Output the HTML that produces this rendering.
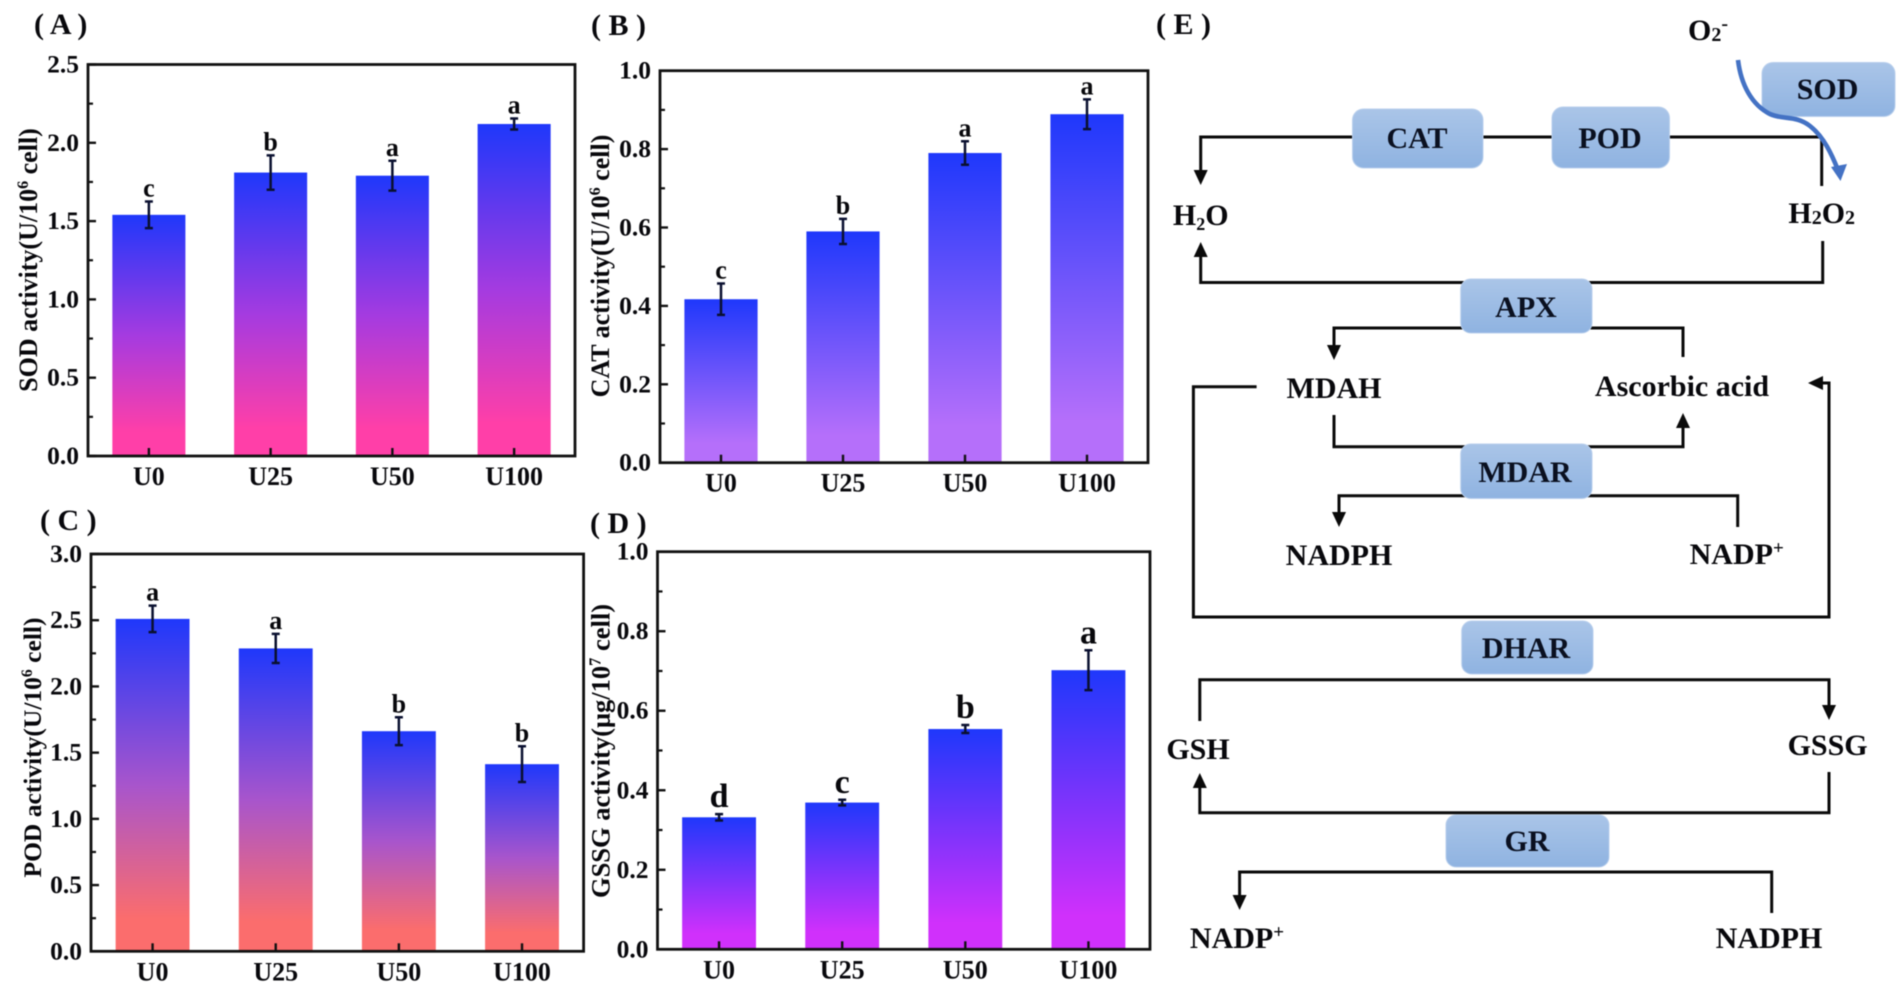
<!DOCTYPE html>
<html lang="en">
<head>
<meta charset="utf-8">
<title>Antioxidant enzyme activity and pathway</title>
<style>
html,body{margin:0;padding:0;background:#fff;width:1902px;height:993px;overflow:hidden}
#figure{display:block;filter:blur(0.6px)}
text{font-family:"Liberation Serif",serif;font-weight:bold;fill:#08080c}
.box{fill:url(#boxGrad);stroke:#b9cfec;stroke-width:1}
.conn{fill:none;stroke:#0a0a0a;stroke-width:3}
.conna{fill:none;stroke:#0a0a0a;stroke-width:3;marker-end:url(#arrow)}
.d{font-size:30px;text-anchor:middle}
.b{font-size:30px;text-anchor:middle;fill:#0a1020}
.pl{font-size:30px}
</style>
</head>
<body>
<svg id="figure" xmlns="http://www.w3.org/2000/svg" width="1902" height="993" viewBox="0 0 1902 993">
  <defs>
    <marker id="arrow" markerUnits="userSpaceOnUse" markerWidth="16" markerHeight="16" refX="5" refY="7.5" orient="auto">
      <path d="M0,0.5 L15,7.5 L0,14.5 z" fill="#0a0a0a"/>
    </marker>
    <linearGradient id="boxGrad" x1="0" y1="0" x2="0" y2="1">
      <stop offset="0" stop-color="#aac5e8"/>
      <stop offset="1" stop-color="#8fb3e1"/>
    </linearGradient>
    <linearGradient id="gradA" x1="0" y1="0" x2="0" y2="1"><stop offset="0" stop-color="#1f38fb"/><stop offset="0.5" stop-color="#a53be0"/><stop offset="0.9" stop-color="#ff3fa8"/></linearGradient>
    <linearGradient id="gradB" x1="0" y1="0" x2="0" y2="1"><stop offset="0" stop-color="#1f38fb"/><stop offset="0.88" stop-color="#b56ffa"/></linearGradient>
    <linearGradient id="gradC" x1="0" y1="0" x2="0" y2="1"><stop offset="0" stop-color="#1f38fb"/><stop offset="0.5" stop-color="#a855cc"/><stop offset="0.9" stop-color="#fb6d6d"/></linearGradient>
    <linearGradient id="gradD" x1="0" y1="0" x2="0" y2="1"><stop offset="0" stop-color="#1f38fb"/><stop offset="0.88" stop-color="#d030fb"/></linearGradient>
  </defs>

  <text class="pl" x="34" y="34">( A )</text>
  <text class="pl" x="591" y="35">( B )</text>
  <text class="pl" x="40" y="530">( C )</text>
  <text class="pl" x="590" y="533">( D )</text>
  <text class="pl" x="1156" y="34">( E )</text>

  <g id="charts"></g>

  <g id="pathway">
    <polyline class="conna" points="1822,137 1200.7,137 1200.7,175"/>
    <line class="conn" x1="1821.7" y1="137" x2="1821.7" y2="186"/>
    <polyline class="conna" points="1822.7,241 1822.7,282.5 1200.7,282.5 1200.7,252"/>
    <polyline class="conna" points="1683,357 1683,328 1334,328 1334,350"/>
    <polyline class="conna" points="1334,415 1334,446.7 1683,446.7 1683,423"/>
    <polyline class="conna" points="1737.7,527 1737.7,495.7 1339,495.7 1339,517"/>
    <polyline class="conna" points="1256.6,386.7 1193.4,386.7 1193.4,617 1829,617 1829,383 1818,383"/>
    <polyline class="conna" points="1199.8,721 1199.8,679.7 1829,679.7 1829,710"/>
    <polyline class="conna" points="1829,772 1829,812.7 1199.8,812.7 1199.8,783"/>
    <polyline class="conna" points="1771.7,913 1771.7,872 1239.6,872 1239.6,900"/>

    <rect class="box" x="1352.5" y="109" width="130.5" height="59" rx="11"/>
    <rect class="box" x="1552" y="107" width="117.5" height="61" rx="11"/>
    <rect class="box" x="1762" y="62.5" width="133" height="54" rx="11"/>
    <rect class="box" x="1460.7" y="279" width="131.3" height="54" rx="10"/>
    <rect class="box" x="1460.7" y="444" width="131.3" height="54.5" rx="10"/>
    <rect class="box" x="1461.7" y="621" width="131.3" height="53" rx="10"/>
    <rect class="box" x="1446" y="815" width="163" height="52" rx="10"/>

    <text class="b" x="1417" y="148">CAT</text>
    <text class="b" x="1610" y="148">POD</text>
    <text class="b" x="1827.6" y="99">SOD</text>
    <text class="b" x="1526" y="317">APX</text>
    <text class="b" x="1525" y="482">MDAR</text>
    <text class="b" x="1526" y="658">DHAR</text>
    <text class="b" x="1527" y="851">GR</text>

    <path d="M1738,60 C1741,85 1752,105 1770,114 C1783,120 1796,115 1810,126 C1824,137 1832,155 1838,170" fill="none" stroke="#4472c4" stroke-width="4.6"/>
    <polygon points="1840.5,181 1831,167 1847,164" fill="#4472c4"/>

    <text class="d" x="1708" y="40">O<tspan font-size="20" dy="1">2</tspan><tspan font-size="20" dy="-11">-</tspan></text>
    <text class="d" x="1200.7" y="225">H<tspan font-size="18" dy="5">2</tspan><tspan dy="-5">O</tspan></text>
    <text class="d" x="1821.7" y="223">H<tspan font-size="20" dy="1">2</tspan><tspan dy="-1">O</tspan><tspan font-size="20" dy="1">2</tspan></text>
    <text class="d" x="1334" y="398">MDAH</text>
    <text class="d" x="1682" y="396">Ascorbic acid</text>
    <text class="d" x="1339" y="565">NADPH</text>
    <text class="d" x="1736.7" y="564">NADP<tspan font-size="19" dy="-10">+</tspan></text>
    <text class="d" x="1198" y="759">GSH</text>
    <text class="d" x="1827.6" y="755">GSSG</text>
    <text class="d" x="1237" y="948">NADP<tspan font-size="19" dy="-10">+</tspan></text>
    <text class="d" x="1769" y="948">NADPH</text>
  </g>
</svg>
<script>
const categories = ['U0', 'U25', 'U50', 'U100'];

const sodValues = [1.54, 1.81, 1.79, 2.12];
const sodErrors = [0.085, 0.11, 0.095, 0.035];
const sodLetters = ['c', 'b', 'a', 'a'];
const sodTicks = ['0.0', '0.5', '1.0', '1.5', '2.0', '2.5'];

const catValues = [0.417, 0.59, 0.79, 0.889];
const catErrors = [0.04, 0.032, 0.03, 0.038];
const catLetters = ['c', 'b', 'a', 'a'];
const catTicks = ['0.0', '0.2', '0.4', '0.6', '0.8', '1.0'];

const podValues = [2.51, 2.287, 1.662, 1.413];
const podErrors = [0.1, 0.11, 0.105, 0.135];
const podLetters = ['a', 'a', 'b', 'b'];
const podTicks = ['0.0', '0.5', '1.0', '1.5', '2.0', '2.5', '3.0'];

const gssgValues = [0.332, 0.369, 0.554, 0.702];
const gssgErrors = [0.008, 0.007, 0.01, 0.05];
const gssgLetters = ['d', 'c', 'b', 'a'];
const gssgTicks = ['0.0', '0.2', '0.4', '0.6', '0.8', '1.0'];

const NS = 'http://www.w3.org/2000/svg';
const chartsRoot = document.getElementById('charts');

function make(parent, tag, attrs, txt) {
  const el = document.createElementNS(NS, tag);
  for (const k in attrs) el.setAttribute(k, attrs[k]);
  if (txt !== undefined) el.textContent = txt;
  parent.appendChild(el);
  return el;
}

function drawPanel(p) {
  const tickNums = p.ticks.map(Number);
  const yMax = tickNums[tickNums.length - 1];
  const yScale = v => p.bottom - (v / yMax) * (p.bottom - p.top);
  const step = (p.right - p.left) / categories.length;
  const xScale = i => p.left + step * (i + 0.5);
  const barW = step * 0.6;

  const g = make(chartsRoot, 'g', {});
  
  

  p.values.forEach((v, i) => {
    const bar = make(g, 'rect', {
      x: xScale(i) - barW / 2, y: yScale(v), width: barW, height: p.bottom - yScale(v),
      fill: 'url(#' + p.grad + ')'
    });
    
    

    const hi = yScale(v + p.errors[i]);
    const lo = yScale(v - p.errors[i]);
    const cx = xScale(i);
    const err = make(g, 'path', {
      d: 'M' + (cx - 4) + ',' + hi + 'H' + (cx + 4) + 'M' + cx + ',' + hi + 'V' + lo + 'M' + (cx - 4) + ',' + lo + 'H' + (cx + 4),
      fill: 'none', stroke: '#0a1030', 'stroke-width': 2.5
    });
    
    

    const letter = make(g, 'text', {
      x: cx, y: hi - p.letterGap, 'text-anchor': 'middle', 'font-size': p.letterSize
    }, p.letters[i]);
    
    

    const tick = make(g, 'line', {
      x1: cx, x2: cx, y1: p.bottom, y2: p.bottom - 8, stroke: '#111', 'stroke-width': 2.4
    });
    
    

    const lab = make(g, 'text', {
      x: cx, y: p.bottom + 29, 'text-anchor': 'middle', 'font-size': 26
    }, categories[i]);
    
    
  });

  tickNums.forEach((t, i) => {
    const y = yScale(t);
    const major = make(g, 'line', {
      x1: p.left, x2: p.left + 8, y1: y, y2: y, stroke: '#111', 'stroke-width': 2.4
    });
    
    

    const lab = make(g, 'text', {
      x: p.left - 9, y: y + 8, 'text-anchor': 'end', 'font-size': 25.5
    }, p.ticks[i]);
    
    

    if (i < tickNums.length - 1) {
      const my = yScale((t + tickNums[i + 1]) / 2);
      const minor = make(g, 'line', {
        x1: p.left, x2: p.left + 5, y1: my, y2: my, stroke: '#111', 'stroke-width': 2.2
      });
      
      
    }
  });

  const frame = make(g, 'rect', {
    x: p.left, y: p.top, width: p.right - p.left, height: p.bottom - p.top,
    fill: 'none', stroke: '#111', 'stroke-width': 2.8
  });
  
  

  const title = make(g, 'text', {
    transform: 'translate(' + p.titleX + ',' + p.titleY + ') rotate(-90)',
    'text-anchor': 'middle', 'font-size': p.titleSize
  });
  
  
  make(title, 'tspan', {}, p.titleStart);
  make(title, 'tspan', { 'font-size': p.titleSize * 0.62, dy: -9 }, p.titleSup);
  make(title, 'tspan', { dy: 9 }, ' cell)');
}

drawPanel({ key: 'sod', values: sodValues, errors: sodErrors, letters: sodLetters, ticks: sodTicks, grad: 'gradA',
  left: 88, right: 575, top: 64.5, bottom: 456, letterGap: 5, letterSize: 26,
  titleX: 37, titleY: 260, titleSize: 26, titleStart: 'SOD activity(U/10', titleSup: '6' });
drawPanel({ key: 'cat', values: catValues, errors: catErrors, letters: catLetters, ticks: catTicks, grad: 'gradB',
  left: 660, right: 1148, top: 70.7, bottom: 462.7, letterGap: 5, letterSize: 26,
  titleX: 609, titleY: 266, titleSize: 26, titleStart: 'CAT activity(U/10', titleSup: '6' });
drawPanel({ key: 'pod', values: podValues, errors: podErrors, letters: podLetters, ticks: podTicks, grad: 'gradC',
  left: 91, right: 583.6, top: 554, bottom: 951.3, letterGap: 5, letterSize: 26,
  titleX: 41, titleY: 747.5, titleSize: 25.5, titleStart: 'POD activity(U/10', titleSup: '6' });
drawPanel({ key: 'gssg', values: gssgValues, errors: gssgErrors, letters: gssgLetters, ticks: gssgTicks, grad: 'gradD',
  left: 657.5, right: 1150, top: 551.7, bottom: 949.3, letterGap: 7, letterSize: 34,
  titleX: 609.5, titleY: 751, titleSize: 26.5, titleStart: 'GSSG activity(μg/10', titleSup: '7' });
</script>
</body>
</html>
